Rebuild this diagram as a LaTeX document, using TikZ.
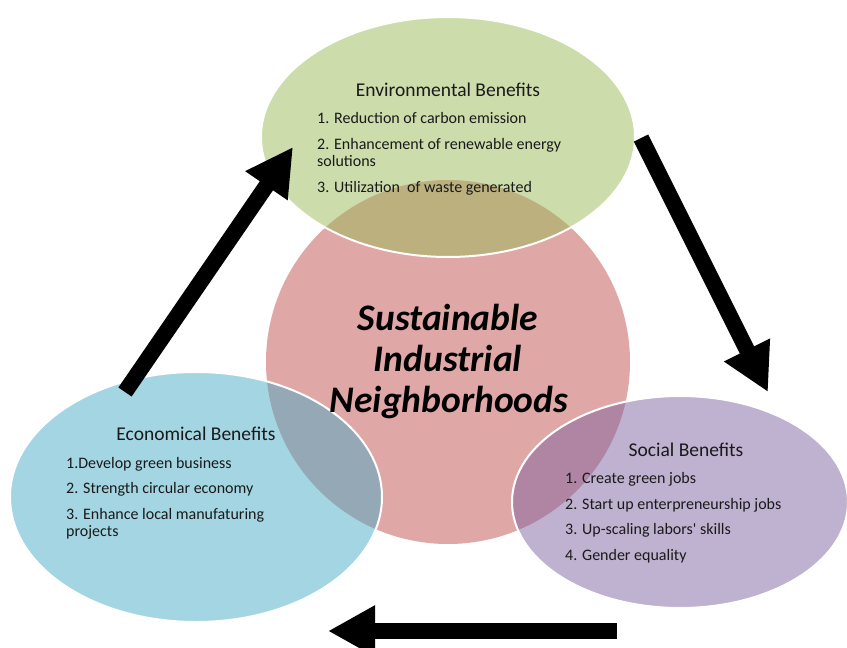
\documentclass[tikz,border=0pt]{standalone}
\usepackage{fontspec}
\setmainfont{Carlito}
\usetikzlibrary{shapes.geometric,arrows.meta}
\definecolor{cgreen}{HTML}{9BBB59}
\definecolor{cred}{HTML}{C0504D}
\definecolor{cblue}{HTML}{4BACC6}
\definecolor{cpurple}{HTML}{8064A2}
\definecolor{ctext}{HTML}{1A1A1A}
\tikzset{
  bubble/.style={ellipse, inner sep=0pt, outer sep=0pt, draw=white, line width=2pt, fill opacity=0.5},
  heading/.style={anchor=base, inner sep=0pt, text=ctext, font=\fontsize{19.5}{23}\selectfont},
  item/.style={anchor=base west, inner sep=0pt, text=ctext, font=\fontsize{16}{17}\selectfont},
  titleline/.style={anchor=base, inner sep=0pt, text=black, font=\fontsize{37.5}{41}\selectfont\bfseries\itshape},
  blockarrow/.style={draw=black, line width=16pt, -{Triangle[length=47pt,width=48pt]}}
}
\begin{document}
\begin{tikzpicture}[x=1pt,y=-1pt]
\useasboundingbox (0,0) rectangle (847,648);
\fill[white] (0,0) rectangle (847,648);

% bubbles
\node[bubble, draw=none, fill=cred, minimum width=364pt, minimum height=364pt] (core) at (448,362) {};
\node[bubble, fill=cgreen, minimum width=374pt, minimum height=240pt] (env) at (448,137) {};
\node[bubble, fill=cblue, minimum width=372pt, minimum height=250pt] (eco) at (196,497) {};
\node[bubble, fill=cpurple, minimum width=336pt, minimum height=212pt] (soc) at (680,502) {};

% centre title
\node[titleline] (t1) at (448,330) {Sustainable};
\node[titleline] (t2) at (448,371) {Industrial};
\node[titleline] (t3) at (449,412) {Neighborhoods};

% environmental
\node[heading] (envh) at (448,96) {Environmental Benefits};
\node[item] (env1) at (317,123) {1. Reduction of carbon emission};
\node[item] (env2) at (317,149) {2. Enhancement of renewable energy};
\node[item] (env2b) at (317,166) {solutions};
\node[item] (env3) at (317,192) {3. Utilization\ \ of waste generated};

% economical
\node[heading] (ecoh) at (196,440) {Economical Benefits};
\node[item] (eco1) at (66,468) {1.Develop green business};
\node[item] (eco2) at (66,493) {2. Strength circular economy};
\node[item] (eco3) at (66,519) {3. Enhance local manufaturing};
\node[item] (eco3b) at (66,536) {projects};

% social
\node[heading] (soch) at (686,456) {Social Benefits};
\node[item] (soc1) at (565,483) {1. Create green jobs};
\node[item] (soc2) at (565,509) {2. Start up enterpreneurship jobs};
\node[item] (soc3) at (565,534) {3. Up-scaling labors\textquotesingle\ skills};
\node[item] (soc4) at (565,560) {4. Gender equality};

% arrows
\coordinate (a1s) at (125,392);
\coordinate (a1e) at (293,147);
\coordinate (a2s) at (641,138);
\coordinate (a2e) at (768,392);
\coordinate (a3s) at (617,631);
\coordinate (a3e) at (328,631);
\draw[blockarrow] (a1s) -- (a1e);
\draw[blockarrow] (a2s) -- (a2e);
\draw[blockarrow] (a3s) -- (a3e);
\end{tikzpicture}
\end{document}
